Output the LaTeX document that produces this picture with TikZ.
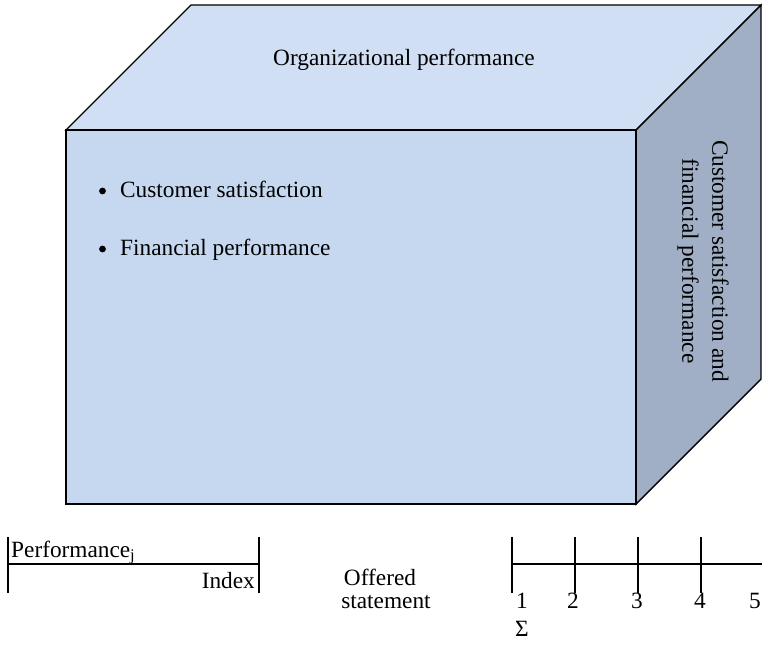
\documentclass[tikz,border=0pt]{standalone}
\usepackage{fontspec}
\setmainfont{Liberation Serif}
\definecolor{topc}{RGB}{208,223,243}
\definecolor{frontc}{RGB}{197,216,240}
\definecolor{sidec}{RGB}{160,175,198}
\begin{document}
\begin{tikzpicture}[x=1pt,y=-1pt,
  face/.style={draw=black,line width=1.4pt,line join=miter},
  lbl/.style={font=\fontsize{23.3}{30}\selectfont,inner sep=0pt},
  bul/.style={circle,fill=black,inner sep=0pt,minimum size=6.8pt},
  rulel/.style={draw=black,line width=2.2pt}]
\useasboundingbox (0,0) rectangle (762,649);
% cube corners
\coordinate (FTL) at (66,130);
\coordinate (FTR) at (636,130);
\coordinate (FBR) at (636,504);
\coordinate (FBL) at (66,504);
\coordinate (BTL) at (191,5);
\coordinate (BTR) at (761,5);
\coordinate (BBR) at (761,379);
\draw[face,fill=topc] (FTL) -- (BTL) -- (BTR) -- (FTR) -- cycle;
\draw[face,fill=sidec] (FTR) -- (BTR) -- (BBR) -- (FBR) -- cycle;
\draw[face,fill=frontc] (FTL) -- (FTR) -- (FBR) -- (FBL) -- cycle;
% texts on cube
\node[lbl] (top) at (404,60) {Organizational performance};
\node[lbl,rotate=-90,align=center] (side) at (703,261) {Customer satisfaction and\\financial performance};
\node[bul] (b1) at (102.5,191) {};
\node[lbl,anchor=base west] (i1) at (120,197) {Customer satisfaction};
\node[bul] (b2) at (102.5,249) {};
\node[lbl,anchor=base west] (i2) at (120,255) {Financial performance};
% bottom-left index
\coordinate (La) at (8,537);
\coordinate (Lb) at (8,593);
\coordinate (Ra) at (259,537);
\coordinate (Rb) at (259,593);
\coordinate (Lm) at (8,564);
\coordinate (Rm) at (259,564);
\draw[rulel] (La) -- (Lb);
\draw[rulel] (Ra) -- (Rb);
\draw[rulel] (Lm) -- (Rm);
\node[lbl,anchor=base west] (perf) at (11,557) {Performance\textsubscript{j}};
\node[lbl,anchor=base east] (idx) at (255,588) {Index};
% offered statement
\node[lbl,anchor=base] (off) at (380,585) {Offered};
\node[lbl,anchor=base] (stmt) at (386,608) {statement};
% scale
\coordinate (S0) at (512,564);
\coordinate (SE) at (762,564);
\foreach \x/\n in {512/1,575/2,638/3,701/4}{
  \coordinate (T\n a) at (\x,537);
  \coordinate (T\n b) at (\x,593);
  \draw[rulel] (T\n a) -- (T\n b);
}
\draw[rulel] (S0) -- (SE);
\node[lbl,anchor=base] (n1) at (522,608) {1};
\node[lbl,anchor=base] (n2) at (573,608) {2};
\node[lbl,anchor=base] (n3) at (637,608) {3};
\node[lbl,anchor=base] (n4) at (700,608) {4};
\node[lbl,anchor=base] (n5) at (755,608) {5};
\node[lbl,anchor=base] (sig) at (522,636) {Σ};
\end{tikzpicture}
\end{document}
